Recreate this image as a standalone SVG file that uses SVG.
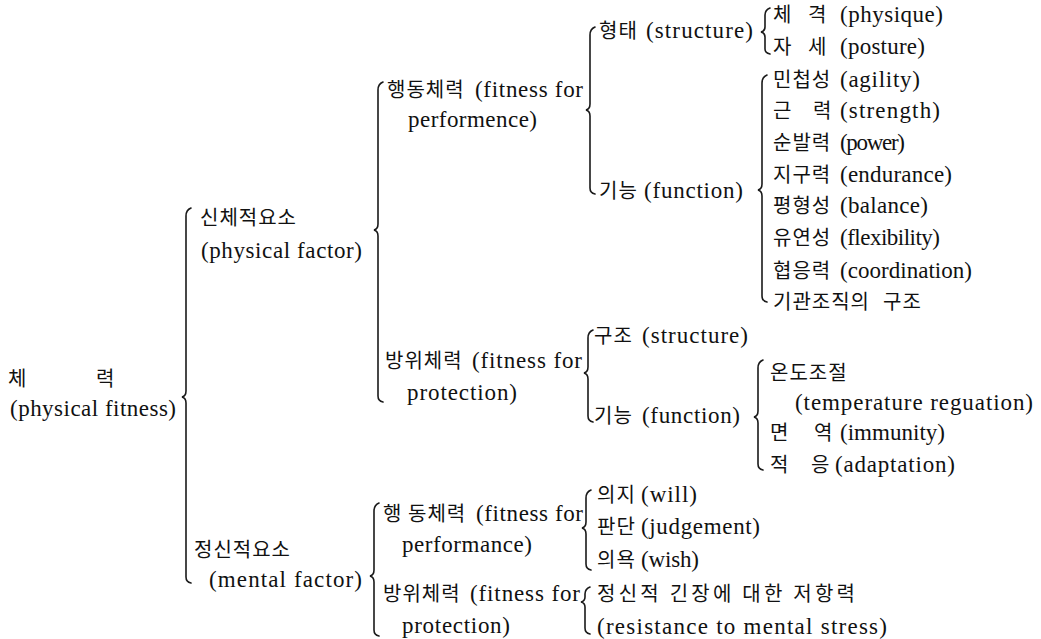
<svg xmlns="http://www.w3.org/2000/svg" width="1041" height="639" viewBox="0 0 1041 639">
<style>
.ko{font-family:"Noto Sans CJK KR",sans-serif;font-size:20px;fill:#111;letter-spacing:1px}
.en{font-family:"Liberation Serif","Noto Sans CJK KR",serif;font-size:23px;fill:#111}
.br{fill:none;stroke:#1a1a1a;stroke-width:1.6;stroke-linecap:round}
</style>
<rect width="1041" height="639" fill="#ffffff"/>
<g id="connectors">
<path class="br" d="M191,208 Q186,210 186,216 L186,391 Q186,396 182,397 Q186,398 186,403 L186,577 Q186,582 191,583"/>
<path class="br" d="M383,82 Q378,84 378,90 L378,224 Q378,229 374,230 Q378,231 378,236 L378,396 Q378,401 383,402"/>
<path class="br" d="M379,503 Q374,505 374,511 L374,570 Q374,575 370,576 Q374,577 374,582 L374,630 Q374,635 379,636"/>
<path class="br" d="M595,27 Q590,29 590,35 L590,104 Q590,109 586,110 Q590,111 590,116 L590,188 Q590,193 595,194"/>
<path class="br" d="M593,330 Q588,332 588,338 L588,367 Q588,372 584,373 Q588,374 588,379 L588,416 Q588,421 593,422"/>
<path class="br" d="M770,8 Q765,10 765,15 L765,27 Q765,31 761,32 Q765,33 765,37 L765,49 Q765,53 770,54"/>
<path class="br" d="M767,75 Q762,77 762,83 L762,184 Q762,189 758,190 Q762,191 762,196 L762,296 Q762,301 767,302"/>
<path class="br" d="M763,360 Q758,362 758,368 L758,411 Q758,416 754,417 Q758,418 758,423 L758,464 Q758,469 763,470"/>
<path class="br" d="M591,490 Q586,492 586,498 L586,522 Q586,527 582,528 Q586,529 586,534 L586,564 Q586,569 591,570"/>
<path class="br" d="M590,587 Q585,589 585,594 L585,597 Q585,601 581,602 Q585,603 585,607 L585,628 Q585,633 590,634"/>
</g>
<g id="n-root">
<text class="ko" x="8" y="386">체</text><text class="ko" x="96" y="386">력</text>
<text class="en" x="10" y="416" textLength="166" lengthAdjust="spacing">(physical fitness)</text>
</g>
<g id="n-physical">
<text class="ko" x="200" y="225">신체적요소</text>
<text class="en" x="201" y="258" textLength="161" lengthAdjust="spacing">(physical factor)</text>
</g>
<g id="n-mental">
<text class="ko" x="194" y="557">정신적요소</text>
<text class="en" x="209" y="587" textLength="153" lengthAdjust="spacing">(mental factor)</text>
</g>
<g id="n-p-perf">
<text class="ko" x="387" y="97">행동체력</text>
<text class="en" x="475" y="97" textLength="108" lengthAdjust="spacing">(fitness for</text>
<text class="en" x="408" y="127" textLength="129" lengthAdjust="spacing">performence)</text>
</g>
<g id="n-p-prot">
<text class="ko" x="385" y="368">방위체력</text>
<text class="en" x="472" y="368" textLength="110" lengthAdjust="spacing">(fitness for</text>
<text class="en" x="407" y="400" textLength="110" lengthAdjust="spacing">protection)</text>
</g>
<g id="n-m-perf">
<text class="ko" x="383" y="521">행</text><text class="ko" x="408" y="521">동체력</text>
<text class="en" x="476" y="521" textLength="107" lengthAdjust="spacing">(fitness for</text>
<text class="en" x="402" y="552" textLength="130" lengthAdjust="spacing">performance)</text>
</g>
<g id="n-m-prot">
<text class="ko" x="383" y="601">방위체력</text>
<text class="en" x="470" y="601" textLength="110" lengthAdjust="spacing">(fitness for</text>
<text class="en" x="402" y="633" textLength="108" lengthAdjust="spacing">protection)</text>
</g>
<g id="n-form">
<text class="ko" x="599" y="38">형태</text>
<text class="en" x="646" y="38" textLength="107" lengthAdjust="spacing">(structure)</text>
</g>
<g id="n-func">
<text class="ko" x="599" y="198">기능</text>
<text class="en" x="644" y="198" textLength="99" lengthAdjust="spacing">(function)</text>
</g>
<g id="n-struct2">
<text class="ko" x="594" y="343">구조</text>
<text class="en" x="642" y="343" textLength="106" lengthAdjust="spacing">(structure)</text>
</g>
<g id="n-func2">
<text class="ko" x="594" y="423">기능</text>
<text class="en" x="642" y="423" textLength="98" lengthAdjust="spacing">(function)</text>
</g>
<g id="n-physique">
<text class="ko" x="773" y="22">체</text><text class="ko" x="808" y="22">격</text>
<text class="en" x="840" y="22" textLength="103" lengthAdjust="spacing">(physique)</text>
</g>
<g id="n-posture">
<text class="ko" x="773" y="54">자</text><text class="ko" x="808" y="54">세</text>
<text class="en" x="840" y="54" textLength="85" lengthAdjust="spacing">(posture)</text>
</g>
<g id="n-agility">
<text class="ko" x="773" y="87">민첩성</text>
<text class="en" x="840" y="87" textLength="80" lengthAdjust="spacing">(agility)</text>
</g>
<g id="n-strength">
<text class="ko" x="773" y="118">근</text><text class="ko" x="813" y="118">력</text>
<text class="en" x="840" y="118" textLength="100" lengthAdjust="spacing">(strength)</text>
</g>
<g id="n-power">
<text class="ko" x="773" y="150">순발력</text>
<text class="en" x="840" y="150" textLength="65" lengthAdjust="spacing">(power)</text>
</g>
<g id="n-endurance">
<text class="ko" x="773" y="182">지구력</text>
<text class="en" x="840" y="182" textLength="112" lengthAdjust="spacing">(endurance)</text>
</g>
<g id="n-balance">
<text class="ko" x="773" y="213">평형성</text>
<text class="en" x="840" y="213" textLength="88" lengthAdjust="spacing">(balance)</text>
</g>
<g id="n-flexibility">
<text class="ko" x="773" y="245">유연성</text>
<text class="en" x="840" y="245" textLength="100" lengthAdjust="spacing">(flexibility)</text>
</g>
<g id="n-coordination">
<text class="ko" x="773" y="278">협응력</text>
<text class="en" x="840" y="278" textLength="132" lengthAdjust="spacing">(coordination)</text>
</g>
<g id="n-organ">
<text class="ko" x="773" y="309">기관조직의</text><text class="ko" x="883" y="309">구조</text>
</g>
<g id="n-temp">
<text class="ko" x="770" y="380">온도조절</text>
<text class="en" x="795" y="410" textLength="238" lengthAdjust="spacing">(temperature reguation)</text>
</g>
<g id="n-immunity">
<text class="ko" x="770" y="440">면</text><text class="ko" x="814" y="440">역</text>
<text class="en" x="840" y="440" textLength="105" lengthAdjust="spacing">(immunity)</text>
</g>
<g id="n-adaptation">
<text class="ko" x="770" y="472">적</text><text class="ko" x="811" y="472">응</text>
<text class="en" x="835" y="472" textLength="120" lengthAdjust="spacing">(adaptation)</text>
</g>
<g id="n-will">
<text class="ko" x="597" y="502">의지</text>
<text class="en" x="641" y="502" textLength="56" lengthAdjust="spacing">(will)</text>
</g>
<g id="n-judgement">
<text class="ko" x="597" y="534">판단</text>
<text class="en" x="641" y="534" textLength="119" lengthAdjust="spacing">(judgement)</text>
</g>
<g id="n-wish">
<text class="ko" x="597" y="567">의욕</text>
<text class="en" x="641" y="567" textLength="58" lengthAdjust="spacing">(wish)</text>
</g>
<g id="n-resistance">
<text class="ko" x="597" y="601" textLength="259" lengthAdjust="spacing">정신적 긴장에 대한 저항력</text>
<text class="en" x="597" y="634" textLength="290" lengthAdjust="spacing">(resistance to mental stress)</text>
</g>
</svg>
